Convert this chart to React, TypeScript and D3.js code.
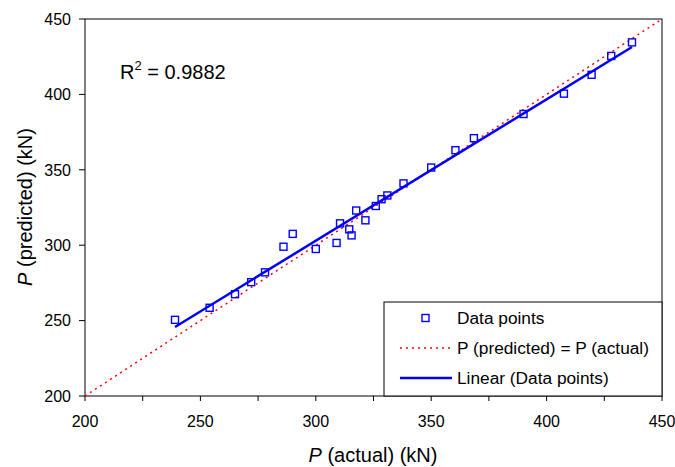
import React, { useEffect, useRef } from "react"
import * as d3 from "d3"

const actual = [
    239, 254, 265, 272, 278, 286, 290, 300, 309, 310.5, 314.5, 315.5, 317.5,
    321.5, 326, 328.5, 331, 338, 350, 360.5, 368.5, 390, 407.5, 419.5, 428, 437,
]
const predicted = [
    250.5, 258.5, 267.5, 275.5, 282, 299, 307.5, 297.5, 301.5, 314.5, 310.5,
    306.5, 323, 316.5, 326, 330.5, 333, 341, 351.5, 363, 371, 387, 400.5, 413,
    425.5, 434.5,
]
const majorTicks = [200, 250, 300, 350, 400, 450]
const minorTicks = [225, 275, 325, 375, 425]
const legendLabels = [
    "Data points",
    "P (predicted) = P (actual)",
    "Linear (Data points)",
]
const r2Text = "0.9882"

const W = 675
const H = 467
const FONT = "'Liberation Sans', Arial, sans-serif"

const App = () => {
    const chartRef = useRef<SVGSVGElement | null>(null)

    useEffect(() => {
        renderChart()
    }, [])

    function renderChart() {
        if (!chartRef.current) return
        const svg = d3.select(chartRef.current)
        svg.selectAll("*").remove()

        const left = 85
        const right = 662
        const top = 19
        const bottom = 396

        const x = d3.scaleLinear().domain([200, 450]).range([left, right])
        const y = d3.scaleLinear().domain([200, 450]).range([bottom, top])

        const points = actual.map((a, i) => ({ a, p: predicted[i] }))

        // least squares fit
        const mx = d3.mean(actual) as number
        const my = d3.mean(predicted) as number
        let sxy = 0
        let sxx = 0
        points.forEach((d) => {
            sxy += (d.a - mx) * (d.p - my)
            sxx += (d.a - mx) * (d.a - mx)
        })
        const slope = sxy / sxx
        const icpt = my - slope * mx
        const xMin = d3.min(actual) as number
        const xMax = d3.max(actual) as number

        svg.append("rect")
            .attr("width", W)
            .attr("height", H)
            .attr("fill", "#fff")

        // frame
        svg.append("rect")
            .attr("x", left)
            .attr("y", top)
            .attr("width", right - left)
            .attr("height", bottom - top)
            .attr("fill", "none")
            .attr("stroke", "#000")
            .attr("stroke-width", 1)

        // y ticks
        const yAx = svg.append("g").attr("font-size", 16)
        majorTicks.forEach((t) => {
            yAx.append("line")
                .attr("x1", left - 6)
                .attr("x2", left)
                .attr("y1", y(t))
                .attr("y2", y(t))
                .attr("stroke", "#000")
            yAx.append("text")
                .attr("x", left - 14)
                .attr("y", y(t))
                .attr("dy", "0.36em")
                .attr("text-anchor", "end")
                .text(t)
        })

        // x ticks
        const xAx = svg.append("g").attr("font-size", 16)
        majorTicks.concat(minorTicks).forEach((t) => {
            xAx.append("line")
                .attr("x1", x(t))
                .attr("x2", x(t))
                .attr("y1", bottom)
                .attr("y2", bottom + 5)
                .attr("stroke", "#000")
        })
        majorTicks.forEach((t) => {
            xAx.append("text")
                .attr("x", x(t))
                .attr("y", 427)
                .attr("text-anchor", "middle")
                .text(t)
        })

        // axis titles
        const xt = svg
            .append("text")
            .attr("x", 373)
            .attr("y", 462)
            .attr("text-anchor", "middle")
            .attr("font-size", 20)
        xt.append("tspan").attr("font-style", "italic").text("P")
        xt.append("tspan").text("  (actual) (kN)")

        const yt = svg
            .append("text")
            .attr("transform", "translate(32,207) rotate(-90)")
            .attr("text-anchor", "middle")
            .attr("font-size", 20)
        yt.append("tspan").attr("font-style", "italic").text("P")
        yt.append("tspan").text("  (predicted) (kN)")

        // y = x reference
        svg.append("line")
            .attr("x1", x(200))
            .attr("y1", y(200))
            .attr("x2", x(450))
            .attr("y2", y(450))
            .attr("stroke", "#ff0000")
            .attr("stroke-width", 1.5)
            .attr("stroke-dasharray", "2,4")

        // trend line
        svg.append("line")
            .attr("x1", x(xMin))
            .attr("y1", y(slope * xMin + icpt))
            .attr("x2", x(xMax))
            .attr("y2", y(slope * xMax + icpt))
            .attr("stroke", "#0000ff")
            .attr("stroke-width", 2.5)

        // points
        svg.append("g")
            .selectAll("rect")
            .data(points)
            .enter()
            .append("rect")
            .attr("x", (d) => x(d.a) - 3.5)
            .attr("y", (d) => y(d.p) - 3.5)
            .attr("width", 7)
            .attr("height", 7)
            .attr("fill", "none")
            .attr("stroke", "#0000ff")
            .attr("stroke-width", 1.4)

        // R^2
        const r2 = svg
            .append("text")
            .attr("x", 120)
            .attr("y", 79)
            .attr("font-size", 20)
        r2.append("tspan").text("R")
        r2.append("tspan")
            .attr("font-size", 13)
            .attr("dy", -9)
            .text("2")
        r2.append("tspan").attr("dy", 9).text(" = " + r2Text)

        // legend
        const lg = svg.append("g").attr("font-size", 17.3)
        lg.append("rect")
            .attr("x", 384)
            .attr("y", 302)
            .attr("width", right - 384)
            .attr("height", bottom - 302)
            .attr("fill", "#fff")
            .attr("stroke", "#000")
        const rows = [318, 348, 378]
        lg.append("rect")
            .attr("x", 422)
            .attr("y", rows[0] - 3.5)
            .attr("width", 7)
            .attr("height", 7)
            .attr("fill", "none")
            .attr("stroke", "#0000ff")
            .attr("stroke-width", 1.4)
        lg.append("line")
            .attr("x1", 400)
            .attr("x2", 452)
            .attr("y1", rows[1])
            .attr("y2", rows[1])
            .attr("stroke", "#ff0000")
            .attr("stroke-width", 1.5)
            .attr("stroke-dasharray", "2,4")
        lg.append("line")
            .attr("x1", 400)
            .attr("x2", 452)
            .attr("y1", rows[2])
            .attr("y2", rows[2])
            .attr("stroke", "#0000ff")
            .attr("stroke-width", 2.5)
        legendLabels.forEach((l, i) => {
            lg.append("text")
                .attr("x", 457)
                .attr("y", rows[i])
                .attr("dy", "0.36em")
                .text(l)
        })
    }

    return (
        <svg
            ref={chartRef}
            width={W}
            height={H}
            style={{
                position: "absolute",
                left: 0,
                top: 0,
                fontFamily: FONT,
                fill: "#000",
            }}
        />
    )
}

export default App
